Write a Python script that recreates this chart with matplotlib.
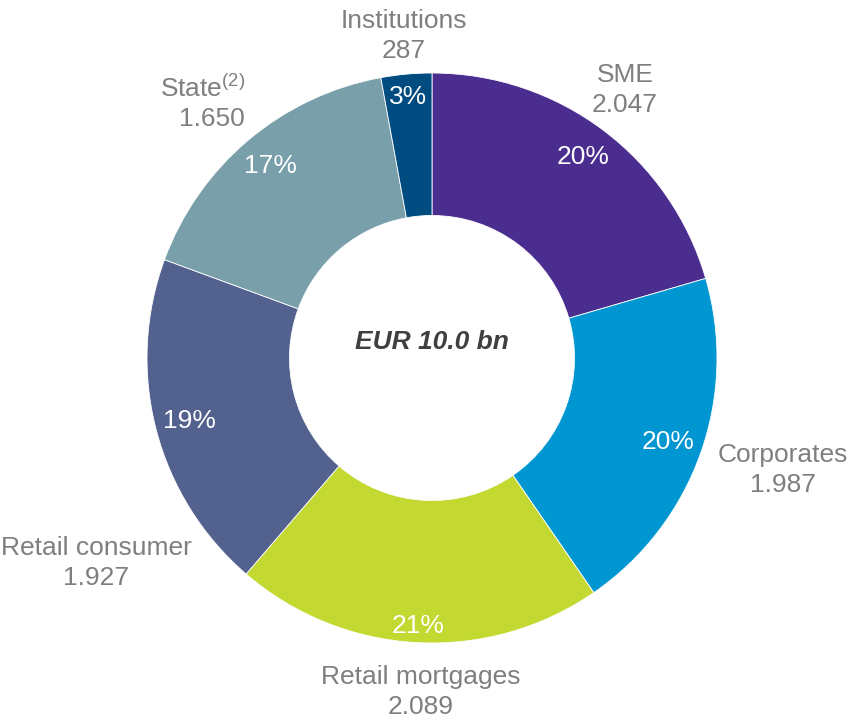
import matplotlib
matplotlib.use('Agg')
import matplotlib.pyplot as plt

# data (EUR mn)
categories = ['SME', 'Corporates', 'Retail mortgages', 'Retail consumer', 'State$^{(2)}$', 'Institutions']
values = [2047, 1987, 2089, 1927, 1650, 287]
value_labels = ['2.047', '1.987', '2.089', '1.927', '1.650', '287']
colors = ['#4B2D8F', '#0096D1', '#C3D831', '#53618F', '#789FAA', '#004B80']
center_text = 'EUR 10.0 bn'

# label positions (data coords, pie radius = 1) and alignment
label_pos = [(0.677, 0.94), (1.232, -0.393), (-0.039, -1.172),
             (-1.179, -0.719), (-0.656, 0.895), (-0.098, 1.13)]
label_ha = ['center', 'center', 'center', 'center', 'right', 'center']
# radius of the percentage labels per wedge
pct_radius = [0.88, 0.88, 0.94, 0.88, 0.88, 0.92]

plt.rcParams['font.family'] = ['Liberation Sans', 'DejaVu Sans']
plt.rcParams['mathtext.default'] = 'regular'

fig = plt.figure(figsize=(8.52, 7.2), dpi=100)
ax = fig.add_axes([0, 0, 1, 1])

wedges, texts, autotexts = ax.pie(values, startangle=90, counterclock=False, colors=colors,
                                  autopct='%.0f%%', pctdistance=0.88,
                                  wedgeprops=dict(width=0.5, edgecolor='white', linewidth=0.6),
                                  textprops=dict(color='white', fontsize=19))

# move percentage labels to their own radius
for w, t, r in zip(wedges, autotexts, pct_radius):
    x, y = t.get_position()
    d = (x ** 2 + y ** 2) ** 0.5
    t.set_position((x / d * r, y / d * r))

ax.set_xlim(-432 / 285, 420 / 285)
ax.set_ylim(-362 / 285, 358 / 285)
ax.set_aspect('auto')
ax.axis('off')

for cat, val, (x, y), ha in zip(categories, value_labels, label_pos, label_ha):
    ax.text(x, y, cat + '\n' + val, ha=ha, va='center', multialignment=ha,
            fontsize=19, color='#7F7F7F', linespacing=1.28)

ax.text(0, 0.056, center_text, ha='center', va='center', fontsize=19,
        fontweight='bold', fontstyle='italic', color='#404040')

fig.savefig('out.png', dpi=100)
